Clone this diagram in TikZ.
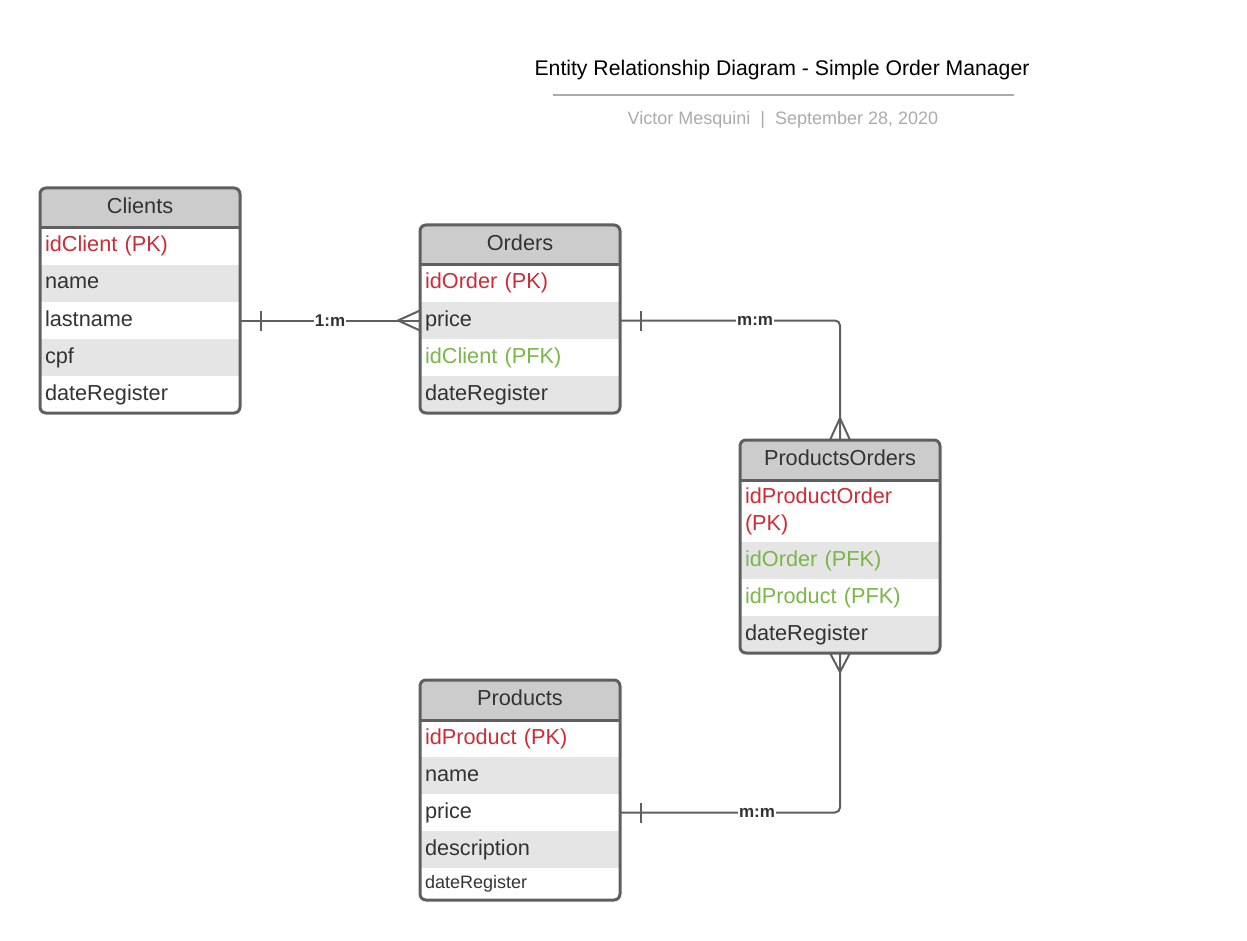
\documentclass[tikz,border=0pt]{standalone}
\usepackage{fontspec}
\setmainfont{Liberation Sans}
\usetikzlibrary{positioning, calc}

\definecolor{ink}{HTML}{333333}
\definecolor{headgray}{HTML}{CCCCCC}
\definecolor{rowgray}{HTML}{E5E5E5}
\definecolor{edge}{HTML}{5F5F5F}
\definecolor{pkred}{HTML}{C92D39}
\definecolor{fkgreen}{HTML}{7AB648}
\definecolor{subgray}{HTML}{ABABAB}

\newcommand{\fieldfont}{\fontsize{21.7}{27}\selectfont}
\newcommand{\smallfieldfont}{\fontsize{18}{22}\selectfont}
\newcommand{\titlefont}{\fontsize{21.2}{26}\selectfont}
\newcommand{\subfont}{\fontsize{18}{22}\selectfont}
\newcommand{\cardfont}{\fontsize{17}{20}\selectfont\bfseries}

\tikzset{
  cell/.style={rectangle, minimum width=200pt, inner sep=0pt, outer sep=0pt,
    font=\fieldfont, text=ink},
  head/.style={cell, fill=headgray, minimum height=40pt,
    text height=15.5pt, text depth=4.5pt},
  field/.style={cell, minimum height=37pt, text width=190pt, align=left,
    text height=15.5pt, text depth=4.5pt},
  fieldtall/.style={cell, minimum height=62pt, text width=190pt, align=left},
  shade/.style={fill=rowgray},
  pk/.style={text=pkred},
  fk/.style={text=fkgreen},
  box/.style={draw=edge, line width=3pt, rounded corners=6pt},
  rel/.style={draw=edge, line width=2pt},
  card/.style={fill=white, inner sep=1pt, font=\cardfont, text=ink}
}

\begin{document}
\begin{tikzpicture}[x=1pt, y=-1pt]
        \useasboundingbox (0,0) rectangle (1247,941);
        % title
        \node[font=\titlefont] (title) at (782,70) {Entity Relationship Diagram - Simple Order Manager};
        \draw[subgray, line width=2pt] (553,95) -- (1014,95);
        \node[font=\subfont, text=subgray] (author) at (783,120) {Victor Mesquini~~|~~September 28, 2020};

        % Clients
        \begin{scope}
          \clip[rounded corners=6pt] (40,188) rectangle (240,413);
          \node[head, anchor=north west] (cl) at (40,188) {Clients};
          \node[field, pk, below=0pt of cl] (cl-id) {idClient (PK)};
          \node[field, shade, below=0pt of cl-id] (cl-name) {name};
          \node[field, below=0pt of cl-name] (cl-lastname) {lastname};
          \node[field, shade, below=0pt of cl-lastname] (cl-cpf) {cpf};
          \node[field, below=0pt of cl-cpf] (cl-date) {dateRegister};
        \end{scope}
        \draw[box] (cl.north west) rectangle (cl-date.south east);
        \draw[box] (cl.south west) -- (cl.south east);

        % Orders
        \begin{scope}
          \clip[rounded corners=6pt] (420,225) rectangle (620,413);
          \node[head, anchor=north west] (or) at (420,225) {Orders};
          \node[field, pk, below=0pt of or] (or-id) {idOrder (PK)};
          \node[field, shade, below=0pt of or-id] (or-price) {price};
          \node[field, fk, below=0pt of or-price] (or-client) {idClient (PFK)};
          \node[field, shade, below=0pt of or-client] (or-date) {dateRegister};
        \end{scope}
        \draw[box] (or.north west) rectangle (or-date.south east);
        \draw[box] (or.south west) -- (or.south east);

        % ProductsOrders
        \begin{scope}
          \clip[rounded corners=6pt] (740,440) rectangle (940,654);
          \node[head, anchor=north west] (po) at (740,440) {ProductsOrders};
          \node[fieldtall, pk, below=0pt of po] (po-id) {idProductOrder (PK)};
          \node[field, fk, shade, below=0pt of po-id] (po-order) {idOrder (PFK)};
          \node[field, fk, below=0pt of po-order] (po-product) {idProduct (PFK)};
          \node[field, shade, below=0pt of po-product] (po-date) {dateRegister};
        \end{scope}
        \draw[box] (po.north west) rectangle (po-date.south east);
        \draw[box] (po.south west) -- (po.south east);

        % Products
        \begin{scope}
          \clip[rounded corners=6pt] (420,680) rectangle (620,900);
          \node[head, anchor=north west] (pr) at (420,680) {Products};
          \node[field, pk, below=0pt of pr] (pr-id) {idProduct (PK)};
          \node[field, shade, below=0pt of pr-id] (pr-name) {name};
          \node[field, below=0pt of pr-name] (pr-price) {price};
          \node[field, shade, below=0pt of pr-price] (pr-desc) {description};
          \node[field, font=\smallfieldfont, minimum height=32pt, text height=12.5pt, text depth=3.5pt,
                below=0pt of pr-desc] (pr-date) {dateRegister};
        \end{scope}
        \draw[box] (pr.north west) rectangle (pr-date.south east);
        \draw[box] (pr.south west) -- (pr.south east);

        % relations
        \draw[rel] (cl-lastname.east) -- (cl-lastname.east -| or-price.west);
        \path (cl-lastname.east) -- node[card] {1:m} (cl-lastname.east -| or-price.west);
        \draw[rel] (cl-lastname.east) ++(21,-10) -- ++(0,20);
        \draw[rel] (cl-lastname.east -| or-price.west) ++(0,-10) -- ++(-22,10) -- ++(22,10);

        \draw[rel, rounded corners=5pt] (or-price.east) -| (po.north);
        \path (or-price.east) -- node[card, pos=0.614] {m:m} (or-price.east -| po.north);
        \draw[rel] (or-price.east) ++(21,-10) -- ++(0,20);
        \draw[rel] (po.north) ++(-10,0) -- ++(10,-22) -- ++(10,22);

        \draw[rel, rounded corners=5pt] (pr-price.east) -| (po-date.south);
        \path (pr-price.east) -- node[card, pos=0.623] {m:m} (pr-price.east -| po-date.south);
        \draw[rel] (pr-price.east) ++(21,-10) -- ++(0,20);
        \draw[rel] (po-date.south) ++(-10,0) -- ++(10,19) -- ++(10,-19);
\end{tikzpicture}
\end{document}
